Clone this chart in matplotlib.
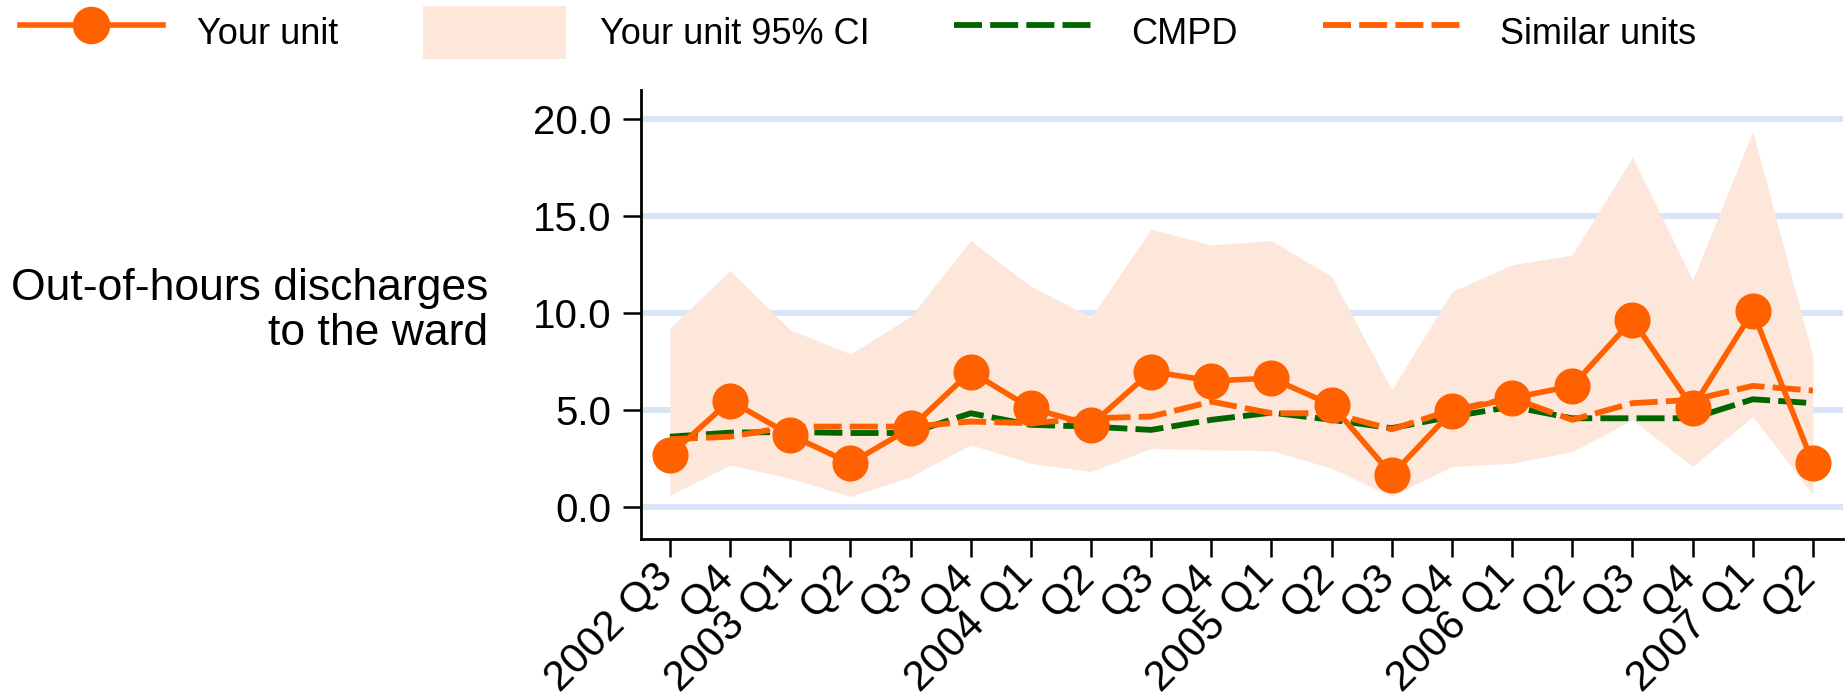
import matplotlib
matplotlib.use("Agg")
import matplotlib.pyplot as plt
import matplotlib.transforms as mtransforms
from matplotlib.lines import Line2D
from matplotlib.patches import Patch
import numpy as np

plt.rcParams['font.family'] = ['Liberation Sans', 'DejaVu Sans']

# ---- data ----
quarters = ["2002 Q3", "Q4", "2003 Q1", "Q2", "Q3", "Q4", "2004 Q1", "Q2", "Q3", "Q4",
            "2005 Q1", "Q2", "Q3", "Q4", "2006 Q1", "Q2", "Q3", "Q4", "2007 Q1", "Q2"]
your_unit = [2.67, 5.47, 3.70, 2.24, 4.05, 6.97, 5.08, 4.22, 6.97, 6.49,
             6.63, 5.25, 1.64, 4.91, 5.60, 6.23, 9.64, 5.11, 10.07, 2.24]
ci_upper = [9.21, 12.19, 9.12, 7.88, 9.81, 13.73, 11.36, 9.78, 14.32, 13.51,
            13.73, 11.87, 6.02, 11.10, 12.48, 12.99, 18.04, 11.70, 19.36, 7.74]
ci_lower = [0.60, 2.15, 1.46, 0.52, 1.55, 3.19, 2.24, 1.81, 3.01, 2.93,
            2.89, 1.98, 0.52, 2.07, 2.24, 2.84, 4.48, 2.07, 4.65, 0.60]
cmpd = [3.61, 3.82, 3.85, 3.80, 3.80, 4.82, 4.22, 4.13, 3.96, 4.48,
        4.85, 4.48, 4.05, 4.65, 5.16, 4.56, 4.56, 4.56, 5.54, 5.34]
similar = [3.48, 3.61, 4.13, 4.13, 4.13, 4.39, 4.31, 4.56, 4.65, 5.42,
           4.82, 4.82, 3.99, 4.99, 5.60, 4.48, 5.34, 5.51, 6.23, 5.99]
y_ticks = [0, 5, 10, 15, 20]

ORANGE = '#FF6000'
PEACH = '#FDE7DA'
GREEN = '#006600'
GRID = '#D8E5F8'
DASH = (4.8, 1.4)
LW_DASH = 4.2
LW_UNIT = 4.0

W, H = 1848, 698
fig = plt.figure(figsize=(W / 100, H / 100), dpi=100)
ax = fig.add_axes([641 / W, 1 - 539 / H, (1843 - 641) / W, (539 - 90) / H])

x = np.arange(len(quarters))
ax.set_axisbelow(True)
ax.fill_between(x, ci_lower, ci_upper, color=PEACH, linewidth=0, zorder=1)
ax.plot(x, cmpd, color=GREEN, lw=LW_DASH, dashes=DASH, zorder=2)
ax.plot(x, similar, color=ORANGE, lw=LW_DASH, dashes=DASH, zorder=3)
ax.plot(x, your_unit, color=ORANGE, lw=LW_UNIT, marker='o', markersize=25, zorder=4)

ax.set_xlim(-0.48, 19.5)
ax.set_ylim(-1.67, 21.5)
ax.set_yticks(y_ticks)
ax.set_yticklabels([f"{v:.1f}" for v in y_ticks])
ax.set_xticks(x)
ax.set_xticklabels(quarters, rotation=45, ha='right', va='top', rotation_mode='anchor')
ax.yaxis.grid(True, color=GRID, lw=4.3)
ax.xaxis.grid(False)

for s in ['top', 'right']:
    ax.spines[s].set_visible(False)
for s in ['left', 'bottom']:
    ax.spines[s].set_linewidth(2)
ax.tick_params(axis='both', direction='out', length=13, width=1.8)
ax.tick_params(axis='y', labelsize=29, pad=8)
ax.tick_params(axis='x', labelsize=30.5, pad=3)

shift = mtransforms.ScaledTranslation(-18 / 100, 5 / 100, fig.dpi_scale_trans)
for lab in ax.get_xticklabels():
    lab.set_transform(lab.get_transform() + shift)

fig.text(488 / W, 1 - 311 / H, "Out-of-hours discharges\nto the ward",
         ha='right', va='center', multialignment='right', fontsize=32, linespacing=1.1)

handles = [
    Line2D([], [], color=ORANGE, lw=LW_UNIT, marker='o', markersize=26),
    Patch(facecolor=PEACH, edgecolor='none'),
    Line2D([], [], color=GREEN, lw=LW_DASH, dashes=DASH),
    Line2D([], [], color=ORANGE, lw=LW_DASH, dashes=DASH),
]
labels = ["Your unit", "Your unit 95% CI", "CMPD", "Similar units"]
fig.legend(handles, labels, loc='upper left', bbox_to_anchor=(20 / W, 1 - 6 / H),
           ncol=4, frameon=False, fontsize=26, handlelength=3.95, handleheight=1.9,
           handletextpad=0.95, columnspacing=2.35, borderpad=0, borderaxespad=0)

fig.savefig("out.png", dpi=100)
